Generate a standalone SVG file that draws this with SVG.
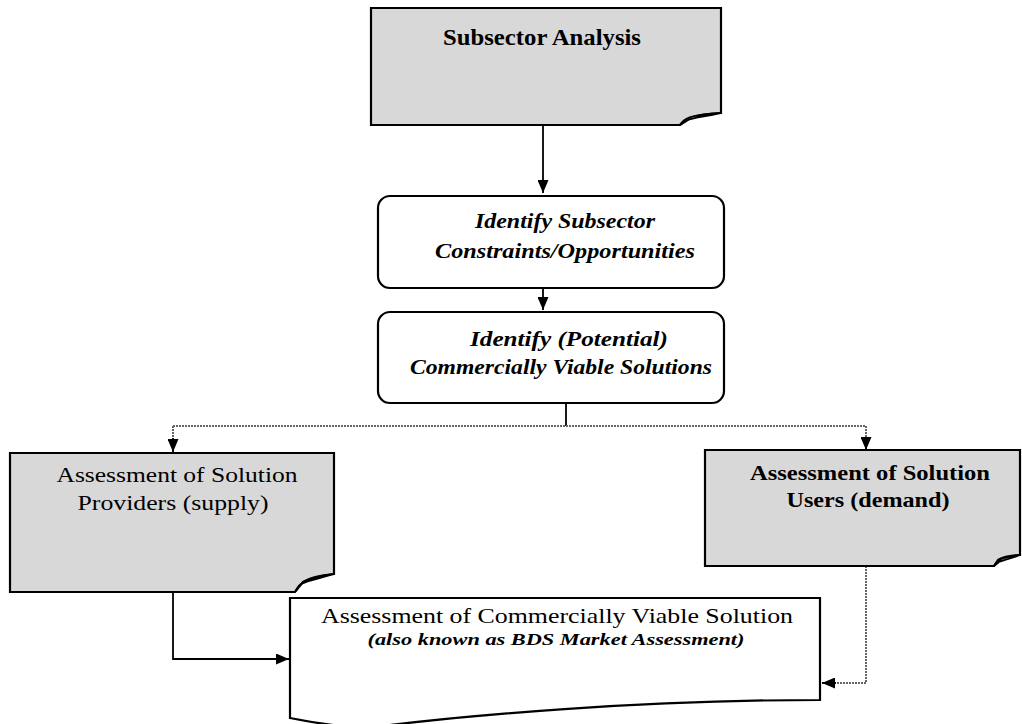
<svg xmlns="http://www.w3.org/2000/svg" width="1022" height="724" viewBox="0 0 1022 724">
<style>
.note{fill:#d8d8d8;stroke:#000;stroke-width:2.2}
.fold{fill:#fff;stroke:#000;stroke-width:1.8}
.proc{fill:#fff;stroke:#000;stroke-width:2.2}
.t{font-family:"Liberation Serif","Times New Roman",serif;fill:#000;text-anchor:middle}
.b{font-weight:bold}
.i{font-style:italic}
.c{fill:none;stroke:#000;stroke-width:1.8}
.g{fill:none;stroke:#666;stroke-width:2;stroke-dasharray:2 1}
</style>
<defs>
<marker id="ah" markerUnits="userSpaceOnUse" markerWidth="13" markerHeight="11" refX="13" refY="5.5" orient="auto">
<path d="M0,0 L13,5.5 L0,11 Z" fill="#000"/>
</marker>
</defs>
<rect width="1022" height="724" fill="#fff"/>
<g id="connectors">
<path class="c" d="M543,125 V193" marker-end="url(#ah)"/>
<path class="c" d="M543,266 V310" marker-end="url(#ah)"/>
<path class="c" d="M566,403 V426"/>
<path class="g" d="M173,426 H866"/>
<path class="g" d="M173,426 V440"/>
<path class="c" d="M173,438 V452" marker-end="url(#ah)"/>
<path class="g" d="M866,426 V440"/>
<path class="c" d="M866,438 V450" marker-end="url(#ah)"/>
<path class="c" d="M173,592 V659 H289" marker-end="url(#ah)"/>
<path class="g" d="M866,566 V683 H835"/>
<path class="c" d="M836,683 H822" marker-end="url(#ah)"/>
</g>
<g id="subsector-analysis">
<path class="note" d="M371,8 H721 V113 Q700,114 690,118 L680,125 H371 Z"/>
<path class="fold" d="M680,125 C684,118 690,115 721,113 C705,117 696,117 688,120 Z"/>
<text class="t b" x="542" y="45" font-size="23" textLength="198" lengthAdjust="spacingAndGlyphs">Subsector Analysis</text>
</g>
<g id="identify-constraints">
<rect class="proc" x="378" y="196" width="346" height="92" rx="12"/>
<text class="t b i" x="565" y="228" font-size="20" textLength="180" lengthAdjust="spacingAndGlyphs">Identify Subsector</text>
<text class="t b i" x="565" y="258" font-size="20" textLength="260" lengthAdjust="spacingAndGlyphs">Constraints/Opportunities</text>
</g>
<g id="identify-solutions">
<rect class="proc" x="378" y="312" width="346" height="91" rx="12"/>
<text class="t b i" x="569" y="346" font-size="20" textLength="198" lengthAdjust="spacingAndGlyphs">Identify (Potential)</text>
<text class="t b i" x="561" y="374" font-size="20" textLength="302" lengthAdjust="spacingAndGlyphs">Commercially Viable Solutions</text>
</g>
<g id="solution-providers">
<path class="note" d="M10,453 H334 V574 Q312,576 303,582 L295,592 H10 Z"/>
<path class="fold" d="M295,592 C299,583 305,578 334,574 C318,579 309,580 301,584 Z"/>
<text class="t" x="177" y="482" font-size="22" textLength="241" lengthAdjust="spacingAndGlyphs">Assessment of Solution</text>
<text class="t" x="173" y="510" font-size="22" textLength="191" lengthAdjust="spacingAndGlyphs">Providers (supply)</text>
</g>
<g id="solution-users">
<path class="note" d="M705,450 H1020 V555 Q1004,556 998,560 L994,566 H705 Z"/>
<path class="fold" d="M994,566 C997,560 1002,557 1020,555 C1009,559 1004,560 999,562 Z"/>
<text class="t b" x="870" y="480" font-size="21" textLength="240" lengthAdjust="spacingAndGlyphs">Assessment of Solution</text>
<text class="t b" x="868" y="507" font-size="21" textLength="163" lengthAdjust="spacingAndGlyphs">Users (demand)</text>
</g>
<g id="commercially-viable-solution">
<path class="proc" d="M290,598 H820 V700 C640,700 470,715 365,728 C330,726 300,720 290,718 Z"/>
<text class="t" x="557" y="623" font-size="21" textLength="472" lengthAdjust="spacingAndGlyphs">Assessment of Commercially Viable Solution</text>
<text class="t b i" x="556" y="645" font-size="16" textLength="377" lengthAdjust="spacingAndGlyphs">(also known as BDS Market Assessment)</text>
</g>
</svg>
